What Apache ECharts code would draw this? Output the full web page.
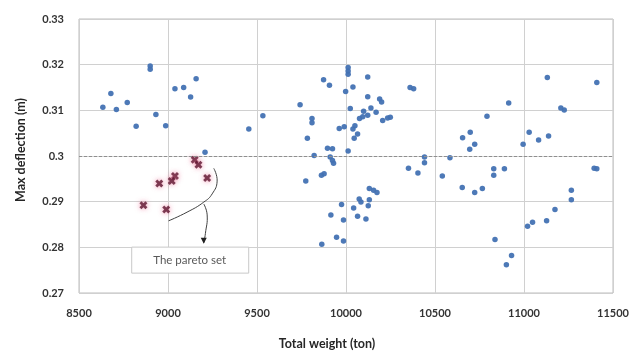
<!DOCTYPE html>
<html><head><meta charset="utf-8">
<script src="https://cdn.jsdelivr.net/npm/echarts@6/dist/echarts.min.js"></script>
<style>html,body{margin:0;padding:0;background:#fff}#c{width:635px;height:355px}</style>
</head><body><div id="c"></div>
<script>
// ---- data ----
var blueWeight = [
 8900,8900,8679,8634,8710,8771,8821,8932,8987,9039,9088,9158,9127,9454,9533,9208,
 10012,10012,10012,10122,9874,9907,9998,10039,10360,10380,9742,10122,10024,10189,10200,9809,9809,10099,10140,10169,10076,10094,10122,10206,10234,10249,10050,10039,9962,9990,10065,10046,9783,9896,9924,10012,9821,9911,9924,9930,9877,9862,10351,10404,9774,10131,10155,10174,10074,10084,10131,10125,9975,10043,9915,9986,10065,10112,9947,9986,9864,
 11131,11409,10914,11207,11226,10792,10698,10655,10723,10695,11029,11082,11138,10995,10441,10441,10584,10541,10830,10830,10890,10653,10723,10766,11394,11409,11266,11266,11174,11127,11020,11048,10837,10930,10901
];
var blueDeflection = [
 0.3197,0.3190,0.3137,0.3107,0.3102,0.3117,0.3065,0.3091,0.3066,0.3147,0.3150,0.3169,0.3129,0.3059,0.3088,0.3008,
 0.3194,0.3186,0.3179,0.3173,0.3167,0.3155,0.3141,0.3151,0.3150,0.3147,0.3112,0.3130,0.3104,0.3125,0.3118,0.3082,0.3073,0.3098,0.3105,0.3096,0.3082,0.3086,0.3089,0.3078,0.3083,0.3085,0.3066,0.3059,0.3060,0.3064,0.3048,0.3039,0.3039,0.3017,0.3016,0.3011,0.3001,0.2998,0.2990,0.2984,0.2961,0.2958,0.2973,0.2963,0.2945,0.2929,0.2925,0.2920,0.2906,0.2899,0.2904,0.2891,0.2894,0.2886,0.2871,0.2860,0.2868,0.2862,0.2822,0.2814,0.2807,
 0.3172,0.3161,0.3116,0.3105,0.3101,0.3087,0.3052,0.3040,0.3026,0.3015,0.3052,0.3035,0.3044,0.3026,0.2998,0.2985,0.2996,0.2956,0.2972,0.2958,0.2972,0.2931,0.2920,0.2929,0.2973,0.2972,0.2925,0.2904,0.2883,0.2858,0.2846,0.2855,0.2817,0.2782,0.2762
];
var paretoWeight = [9150,9171,9039,9021,8951,9220,8862,8990];
var paretoDeflection = [0.2992,0.2981,0.2956,0.2945,0.2940,0.2952,0.2892,0.2883];
var xTicks = [8500,9000,9500,10000,10500,11000,11500];
var yTicks = [0.27,0.28,0.29,0.30,0.31,0.32,0.33];
// annotation path (data coordinates)
var braceWeight = [9257,9276,9248,9201,9107,9003];
var braceDeflection = [0.2973,0.2945,0.2917,0.2899,0.2877,0.2858];
var arrowWeight = [9201,9220,9210,9201];
var arrowDeflection = [0.2895,0.2871,0.2830,0.2810];
var labelText = 'The pareto set';
var labelWeight = 9122, labelDeflection = 0.2772;

function zip(a,b){var r=[];for(var i=0;i<a.length;i++)r.push([a[i],b[i]]);return r;}

var chart = echarts.init(document.getElementById('c'), null, {renderer:'canvas'});
var font = 'Lato, "Open Sans", sans-serif';
var xMark = 'path://M0,2.5 L2.5,0 L5,2.5 L7.5,0 L10,2.5 L7.5,5 L10,7.5 L7.5,10 L5,7.5 L2.5,10 L0,7.5 L2.5,5 Z';

chart.setOption({
  animation:false,
  grid:{left:79,right:22,top:19,bottom:58,show:true,borderColor:'#bdbdbd',borderWidth:1},
  xAxis:{type:'value',min:xTicks[0],max:xTicks[xTicks.length-1],interval:500,
    name:'Total weight (ton)',nameLocation:'middle',nameGap:44,
    nameTextStyle:{fontFamily:font,fontWeight:700,fontSize:12.5,color:'#262626',padding:[0,38,0,0]},
    axisLine:{show:false},axisTick:{show:false},
    axisLabel:{fontFamily:font,fontWeight:700,fontSize:11,color:'#333333',margin:15,
      formatter:function(v){return String(v);}},
    splitLine:{lineStyle:{color:'#d0d0d0'}}},
  yAxis:{type:'value',min:yTicks[0],max:yTicks[yTicks.length-1],interval:0.01,
    name:'Max deflection (m)',nameLocation:'middle',nameGap:52,
    nameTextStyle:{fontFamily:font,fontWeight:700,fontSize:12.5,color:'#262626',padding:[0,0,0,12]},
    axisLine:{show:false},axisTick:{show:false},
    axisLabel:{fontFamily:font,fontWeight:700,fontSize:11,color:'#333333',margin:15,
      formatter:function(v){return String(+v.toFixed(2));}},
    splitLine:{lineStyle:{color:'#d0d0d0'}}},
  series:[
    {type:'scatter',data:zip(blueWeight,blueDeflection),symbol:'circle',symbolSize:5.5,
     itemStyle:{color:'#4372b3',opacity:0.95},
     markLine:{silent:true,symbol:'none',label:{show:false},
       lineStyle:{color:'#8f8f8f',type:[3,2],width:1},data:[{yAxis:0.30}]}},
    {type:'scatter',data:zip(paretoWeight,paretoDeflection),symbol:xMark,symbolSize:8,
     itemStyle:{color:'#5e1530',shadowBlur:5,shadowColor:'rgba(235,100,140,0.9)'}}
  ]
});

function px(w,d){return chart.convertToPixel({gridIndex:0},[w,d]);}
var brace = zip(braceWeight,braceDeflection).map(function(p){return px(p[0],p[1]);});
var arrow = zip(arrowWeight,arrowDeflection).map(function(p){return px(p[0],p[1]);});
var tip = arrow[arrow.length-1];
var lab = px(labelWeight,labelDeflection);
chart.setOption({graphic:[
  {type:'polyline',shape:{points:brace,smooth:0.5},style:{stroke:'#404040',lineWidth:1,fill:null},z:10},
  {type:'polyline',shape:{points:arrow,smooth:0.5},style:{stroke:'#404040',lineWidth:1,fill:null},z:10},
  {type:'polygon',shape:{points:[[tip[0]-3,tip[1]-5],[tip[0]+3,tip[1]-5],[tip[0],tip[1]+1]]},style:{fill:'#202020'},z:10},
  {type:'rect',shape:{x:lab[0]-58,y:lab[1]-13,width:117,height:26},style:{fill:'#fff',stroke:'#c8c8c8',lineWidth:1},z:10},
  {type:'text',x:lab[0],y:lab[1],style:{text:labelText,fill:'#595959',font:'11.5px '+font,align:'center',verticalAlign:'middle'},z:11}
]});
</script></body></html>
